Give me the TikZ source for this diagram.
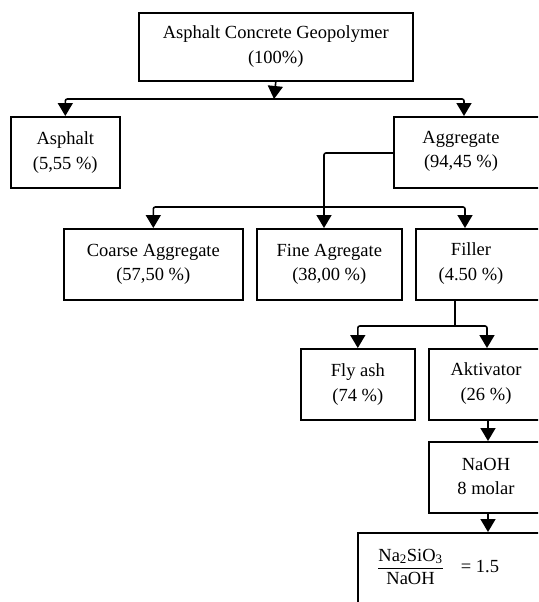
\documentclass[tikz,border=0pt]{standalone}
\usepackage{fontspec}
\usepackage{amsmath}
\setmainfont{Liberation Serif}
\usetikzlibrary{arrows.meta}
\begin{document}
\begin{tikzpicture}[x=1pt,y=-1pt,
  box/.style={draw, line width=1.6pt, anchor=north west, inner sep=0pt},
  txt/.style={align=center, font=\fontsize{18.5}{24.5}\selectfont, inner sep=0pt},
  conn/.style={line width=1.6pt, rounded corners=2pt},
  arr/.style={conn, -{Triangle[width=15pt,length=13pt]}}]
\useasboundingbox (0,0) rectangle (538,602);
\clip (0,0) rectangle (538,602);
% boxes
\node[box, minimum width=274, minimum height=68] (top) at (138,12) {};
\node[txt] at (top.center) {Asphalt Concrete Geopolymer\\(100\%)};
\node[box, minimum width=109, minimum height=71] (asph) at (10,116) {};
\node[txt] at (asph.center) {Asphalt\\(5,55 \%)};
\node[box, minimum width=160, minimum height=71] (agg) at (393,116) {};
\node[txt] at (461,151.5) {Aggregate\\(94,45 \%)};
\node[box, minimum width=179, minimum height=71] (coarse) at (63,228) {};
\node[txt] at (coarse.center) {Coarse Aggregate\\(57,50 \%)};
\node[box, minimum width=145, minimum height=71] (fine) at (256,228) {};
\node[txt] at (fine.center) {Fine Agregate\\(38,00 \%)};
\node[box, minimum width=140, minimum height=71] (fill) at (415,228) {};
\node[txt] at (471,263.5) {Filler\\(4.50 \%)};
\node[box, minimum width=114, minimum height=71] (fly) at (300,348) {};
\node[txt] at (fly.center) {Fly ash\\(74 \%)};
\node[box, minimum width=130, minimum height=71] (akt) at (428,348) {};
\node[txt] at (486,383.5) {Aktivator\\(26 \%)};
\node[box, minimum width=130, minimum height=71] (naoh) at (428,441) {};
\node[txt] at (486,476.5) {NaOH\\8 molar};
\node[box, minimum width=220, minimum height=100] (ratio) at (357,532) {};
\node[txt, anchor=west] at (377,567) {$\dfrac{\text{Na\textsubscript{2}SiO\textsubscript{3}}}{\text{NaOH}}$\hspace{17pt}= 1.5};
% named connector points
\coordinate (b1) at (274,99);
\coordinate (aggIn) at (464,116);
\coordinate (aggL) at (393,153);
\coordinate (b2) at (324,207);
\coordinate (fineIn) at (324,228);
\coordinate (fillIn) at (465,228);
\coordinate (fillOut) at (455,299);
\coordinate (b3) at (455,326);
\coordinate (aktIn) at (487,348);
\coordinate (aktOut) at (488,419);
\coordinate (naohIn) at (488,441);
\coordinate (naohOut) at (488,512);
\coordinate (ratioIn) at (488,532);
% connectors
\draw[arr] (top.south) -- (b1);
\draw[arr] (b1) -| (asph.north);
\draw[arr] (b1) -| (aggIn);
\draw[arr] (aggL) -| (fineIn);
\draw[arr] (b2) -| (coarse.north);
\draw[arr] (b2) -| (fillIn);
\draw[conn] (fillOut) -- (b3);
\draw[arr] (b3) -| (fly.north);
\draw[arr] (b3) -| (aktIn);
\draw[arr] (aktOut) -- (naohIn);
\draw[arr] (naohOut) -- (ratioIn);
\end{tikzpicture}
\end{document}
